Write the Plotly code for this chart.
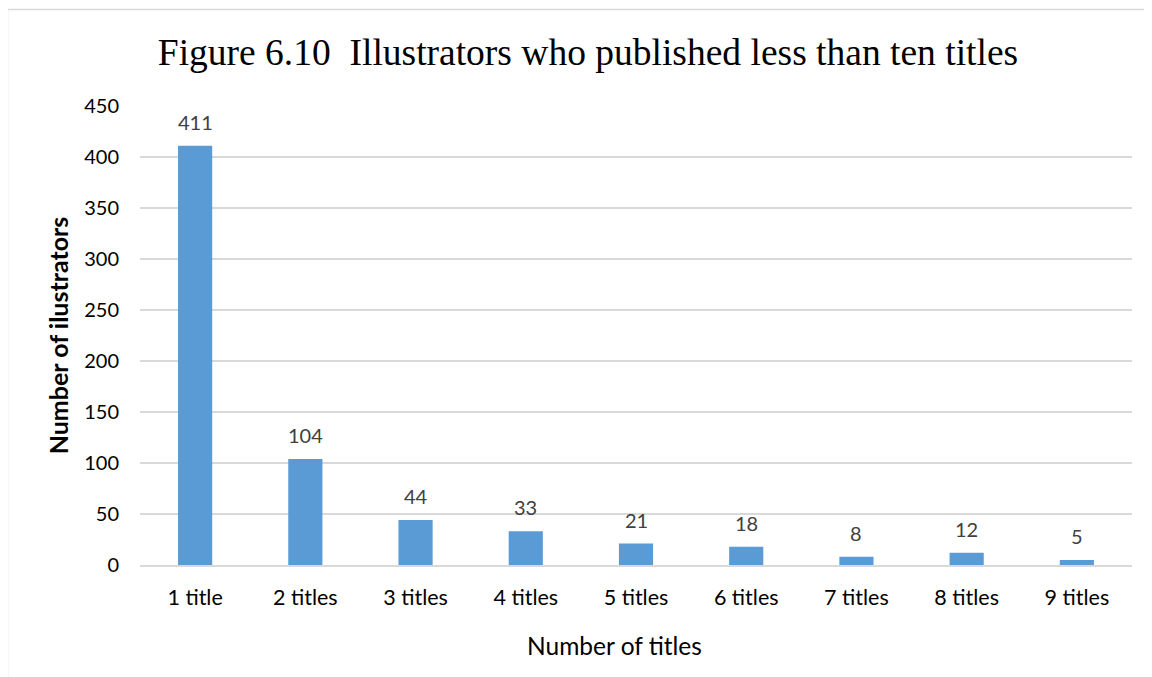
import plotly.graph_objects as go

categories = ["1 title", "2 titles", "3 titles", "4 titles", "5 titles",
              "6 titles", "7 titles", "8 titles", "9 titles"]
illustrators = [411, 104, 44, 33, 21, 18, 8, 12, 5]
y_ticks = [0, 50, 100, 150, 200, 250, 300, 350, 400, 450]

# page body has an 8px margin, so the figure starts at (8, 8)
OFF = 8
W, H = 1152 - OFF, 677 - OFF
ML, MR, MT, MB = 140 - OFF, 20, 106 - OFF, 112
PW, PH = W - ML - MR, H - MT - MB

def px_x(p):
    return (p - OFF - ML) / PW

def px_y(p):
    return (H - MB - (p - OFF)) / PH

SANS = "Lato, 'Open Sans', sans-serif"

fig = go.Figure()
fig.add_trace(go.Bar(
    x=categories, y=illustrators,
    marker=dict(color="#5B9BD5", line=dict(width=0)),
    hoverinfo="x+y",
))

for c, v in zip(categories, illustrators):
    fig.add_annotation(x=c, y=v, text=str(v), showarrow=False,
                       yanchor="bottom", yshift=10,
                       font=dict(family=SANS, size=20, color="#404040"))

# x-axis title (offset left of the plot centre, as in the reference)
fig.add_annotation(text="Number of titles", xref="paper", yref="paper",
                   x=px_x(614.5), y=px_y(645), xanchor="center", yanchor="middle",
                   showarrow=False,
                   font=dict(family=SANS, size=24.5, color="black"))

fig.add_shape(type="rect", xref="paper", yref="paper",
              x0=px_x(7.5), x1=px_x(1170), y0=px_y(700), y1=px_y(9.5),
              line=dict(color="#d9d9d9", width=1.5), fillcolor="rgba(0,0,0,0)",
              layer="below")

fig.update_layout(
    width=W, height=H,
    margin=dict(l=ML, r=MR, t=MT, b=MB, pad=0),
    paper_bgcolor="white", plot_bgcolor="white",
    bargap=0.69,
    showlegend=False,
    title=dict(text="Figure 6.10&nbsp;&nbsp;Illustrators who published less than ten titles",
               x=(588 - OFF) / W, xanchor="center", y=1 - (52 - OFF) / H, yanchor="middle",
               font=dict(family="'Liberation Serif', 'Times New Roman', serif", size=37.5, color="black")),
    xaxis=dict(
        showgrid=False, showline=True, linecolor="#d9d9d9", linewidth=1.5,
        ticks="", tickfont=dict(family=SANS, size=21.5, color="black"),
        ticklabelstandoff=12,
    ),
    yaxis=dict(
        range=[0, 450], autorange=False, tickvals=y_ticks,
        showgrid=True, gridcolor="#d9d9d9", gridwidth=1.5,
        zeroline=False, showline=False, ticks="",
        tickfont=dict(family=SANS, size=20, color="black"),
        ticklabelstandoff=20,
        title=dict(text="<b>Number of ilustrators</b>", standoff=8,
                   font=dict(family=SANS, size=25, color="black")),
    ),
)

fig.write_html("out.html")
